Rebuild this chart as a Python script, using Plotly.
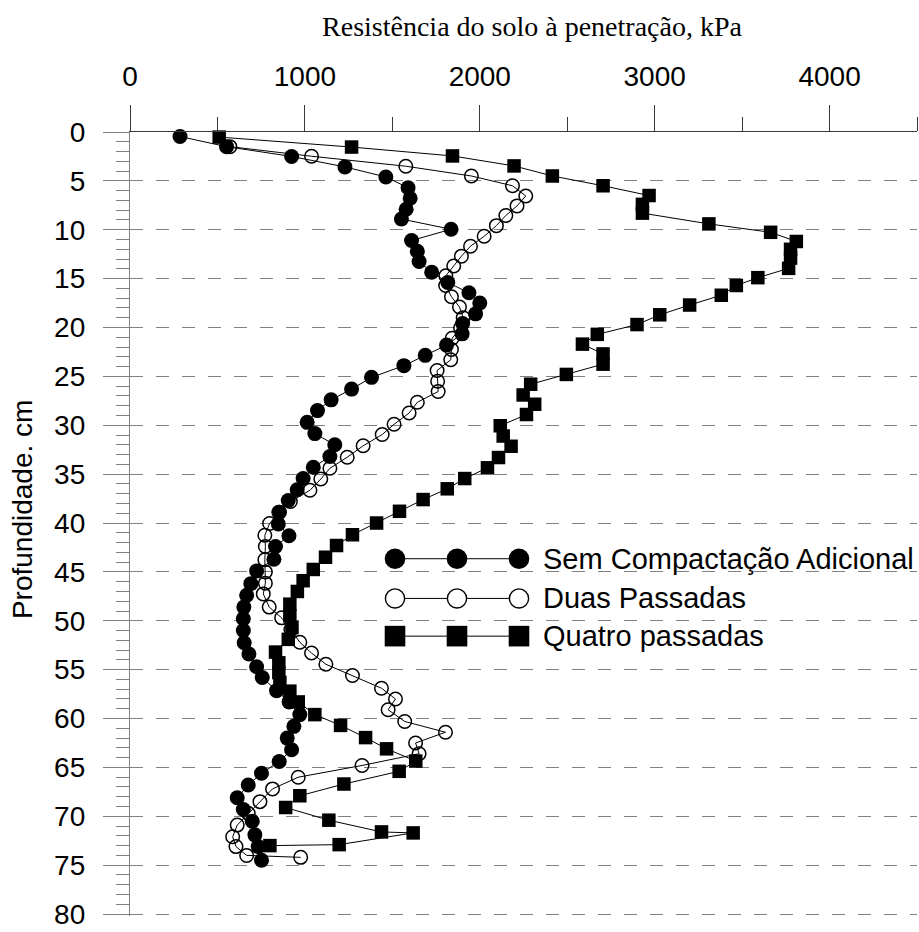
import plotly.graph_objects as go

# ---------------- data ----------------
series_names = ["Sem Compactação Adicional", "Duas Passadas", "Quatro passadas"]

sem_depth = [0.46, 1.5, 2.5, 3.57, 4.6, 5.7, 6.78, 7.9, 8.9, 9.95, 11.1, 12.2, 13.25, 14.35,
             15.4, 16.45, 17.5, 18.6, 19.6, 20.65, 21.8, 22.85, 23.9, 25.1, 26.3, 27.4, 28.5,
             29.7, 30.85, 32.0, 33.2, 34.3, 35.45, 36.6, 37.7, 38.9, 40.1, 41.3, 42.4, 43.7,
             44.9, 46.2, 47.4, 48.6, 49.8, 51.0, 52.25, 53.4, 54.7, 55.8, 57.15, 58.3, 59.6,
             60.8, 62.0, 63.2, 64.4, 65.6, 66.8, 68.1, 69.3, 70.5, 71.9, 73.1, 74.5]
sem_kpa = [286, 552, 924, 1229, 1463, 1590, 1602, 1579, 1552, 1836, 1610, 1643, 1653, 1725,
           1817, 1938, 2000, 1976, 1902, 1899, 1810, 1688, 1566, 1381, 1267, 1150, 1072,
           1013, 1057, 1171, 1143, 1048, 990, 956, 905, 851, 848, 909, 832, 823,
           724, 691, 667, 651, 648, 648, 653, 680, 724, 756, 838, 910, 971,
           937, 899, 924, 853, 752, 676, 613, 648, 699, 714, 733, 752]

duas_depth = [1.5, 2.48, 3.5, 4.5, 5.5, 6.54, 7.56, 8.54, 9.58, 10.67, 11.68, 12.7, 13.7, 14.7,
              15.7, 16.85, 17.9, 19.0, 20.05, 21.1, 22.25, 23.3, 24.4, 25.5, 26.55, 27.65,
              28.75, 29.9, 30.95, 32.1, 33.27, 34.4, 35.5, 36.65, 37.8, 38.9, 40.05, 41.25,
              42.4, 43.75, 45.0, 46.15, 47.25, 48.6, 49.7, 50.9, 52.2, 53.3, 54.45, 55.6,
              56.9, 58.0, 59.1, 60.3, 61.4, 62.5, 63.6, 64.8, 66.0, 67.2, 68.5, 69.7, 70.9,
              72.1, 73.1, 74.0, 74.2]
duas_kpa = [571, 1038, 1577, 1952, 2187, 2263, 2213, 2149, 2095, 2025, 1947, 1895, 1851, 1806,
            1805, 1838, 1884, 1905, 1890, 1842, 1838, 1834, 1756, 1759, 1762, 1643,
            1596, 1510, 1442, 1333, 1242, 1143, 1091, 1029, 917, 855, 798, 771,
            774, 771, 774, 774, 762, 796, 867, 920, 971, 1038, 1120, 1272,
            1438, 1518, 1476, 1571, 1804, 1633, 1653, 1327, 962, 815, 743, 676, 613,
            587, 606, 667, 976]

quatro_depth = [0.52, 1.54, 2.45, 3.47, 4.5, 5.5, 6.5, 7.4, 8.3, 9.4, 10.26, 11.2, 12.0, 12.9,
                13.95, 14.9, 15.7, 16.7, 17.7, 18.7, 19.7, 20.7, 21.7, 22.7, 23.75, 24.8,
                25.8, 26.9, 27.85, 28.9, 30.05, 31.1, 32.15, 33.3, 34.35, 35.45, 36.5, 37.6,
                38.8, 40.0, 41.2, 42.3, 43.5, 44.75, 45.9, 47.0, 48.3, 49.5, 50.7, 51.9,
                53.2, 54.3, 55.3, 56.3, 57.2, 58.3, 59.6, 60.7, 61.95, 63.1, 64.35, 65.4,
                66.7, 67.9, 69.1, 70.4, 71.6, 71.7, 72.9, 73.0]
quatro_kpa = [510, 1267, 1844, 2196, 2415, 2705, 2968, 2930, 2930, 3310, 3663, 3810, 3777, 3777,
              3766, 3590, 3467, 3381, 3200, 3029, 2899, 2672, 2587, 2705, 2705, 2495,
              2291, 2248, 2314, 2267, 2117, 2134, 2179, 2107, 2044, 1914, 1814, 1676,
              1541, 1410, 1272, 1181, 1118, 1048, 990, 957, 914, 914, 926, 905,
              832, 851, 851, 857, 914, 962, 1057, 1204, 1347, 1467, 1634, 1539,
              1223, 971, 890, 1137, 1438, 1619, 1196, 800]

x_ticks = [0, 1000, 2000, 3000, 4000]
y_ticks = list(range(0, 81, 5))

# ---------------- layout constants ----------------
W, H = 919, 932
Y_MAX = 80.2                      # a hair beyond 80 so the 80 grid line is kept
ML, MR, MT = 130, 2, 132
PX_PER_CM = 788 / 80
PH = round(PX_PER_CM * Y_MAX)
MB = H - MT - PH
PW = W - ML - MR
SANS = "Liberation Sans, Arial, sans-serif"
SERIF = "Liberation Serif, Times New Roman, serif"
AXC_X = "#3a3a3a"
AXC_Y = "#808080"


def px_to_paper(px, py):
    return (px - ML) / PW, 1 - (py - MT) / PH


fig = go.Figure()

styles = [
    dict(symbol="circle", size=15, color="black", line=dict(width=0)),
    dict(symbol="circle-open", size=13.5, color="black", line=dict(width=1.5, color="black")),
    dict(symbol="square", size=13.5, color="black", line=dict(width=0)),
]
for name, xs, ys, mk in zip(series_names,
                            [sem_kpa, duas_kpa, quatro_kpa],
                            [sem_depth, duas_depth, quatro_depth], styles):
    fig.add_trace(go.Scatter(x=xs, y=ys, name=name, mode="lines+markers",
                             line=dict(color="black", width=1), marker=mk,
                             showlegend=False, cliponaxis=False))

# ---------------- custom legend (three markers on a line per row) ----------------
leg_rows = [562, 602, 640]
leg_marker_x = [395, 457, 519]
leg_text_x = 541
leg_symbols = ["circle", "circle-open", "square"]
shapes = []
annotations = []
for row_y, sym, name in zip(leg_rows, leg_symbols, series_names):
    x0, y0 = px_to_paper(leg_marker_x[0], row_y)
    x1, _ = px_to_paper(leg_marker_x[-1], row_y)
    shapes.append(dict(type="line", xref="paper", yref="paper", x0=x0, x1=x1, y0=y0, y1=y0,
                       line=dict(color="black", width=1)))
    for mx in leg_marker_x:
        ax, ay = px_to_paper(mx, row_y)
        r = 10.3
        common = dict(xref="paper", yref="paper", xsizemode="pixel", ysizemode="pixel",
                      xanchor=ax, yanchor=ay, x0=-r, x1=r, y0=-r, y1=r)
        if sym == "circle":
            shapes.append(dict(type="circle", fillcolor="black", line=dict(width=0), **common))
        elif sym == "circle-open":
            rr = 9.6
            common.update(x0=-rr, x1=rr, y0=-rr, y1=rr)
            shapes.append(dict(type="circle", fillcolor="white",
                               line=dict(width=1.4, color="black"), **common))
        else:
            shapes.append(dict(type="rect", fillcolor="black", line=dict(width=0), **common))
    tx, ty = px_to_paper(leg_text_x, row_y)
    annotations.append(dict(text=name, xref="paper", yref="paper", x=tx, y=ty,
                            xanchor="left", yanchor="middle", showarrow=False,
                            font=dict(family=SANS, size=29, color="black")))

# y-axis title
yt_x, yt_y = px_to_paper(22, 512)
annotations.append(dict(text="Profundidade. cm", xref="paper", yref="paper", x=yt_x, y=yt_y,
                        xanchor="center", yanchor="middle", textangle=-90, showarrow=False,
                        font=dict(family=SANS, size=28, color="black")))

fig.update_layout(
    width=W, height=H,
    margin=dict(l=ML, r=MR, t=MT, b=MB, pad=0),
    paper_bgcolor="white", plot_bgcolor="white",
    title=dict(text="Resistência do solo à penetração, kPa", x=532 / W, y=1 - 26 / H,
               xanchor="center", yanchor="middle", xref="container", yref="container",
               font=dict(family=SERIF, size=28, color="black")),
    shapes=shapes, annotations=annotations,
    showlegend=False,
)

fig.update_xaxes(
    range=[0, 4500], side="top", tickvals=x_ticks, ticks="outside", ticklen=26,
    tickwidth=1.2, tickcolor=AXC_X, showline=True, linecolor=AXC_X, linewidth=1.3,
    showgrid=False, zeroline=False, ticklabelstandoff=8,
    tickfont=dict(family=SANS, size=28, color="black"),
    minor=dict(dtick=500, tick0=0, ticks="outside", ticklen=14, tickwidth=1.2,
               tickcolor=AXC_X, showgrid=False),
)
fig.update_yaxes(
    range=[Y_MAX, 0], tickvals=y_ticks, ticks="outside", ticklen=26, tickwidth=1.3,
    tickcolor=AXC_Y, showline=True, linecolor=AXC_Y, linewidth=1.3,
    showgrid=True, gridcolor=AXC_Y, gridwidth=1.3, griddash="13px,13px",
    zeroline=False, ticklabelstandoff=12, ticklabeloverflow="allow",
    tickfont=dict(family=SANS, size=28, color="black"),
    minor=dict(dtick=1, tick0=0, ticks="outside", ticklen=13, tickwidth=1.3,
               tickcolor=AXC_Y, showgrid=False),
)

fig.write_html("out.html")
